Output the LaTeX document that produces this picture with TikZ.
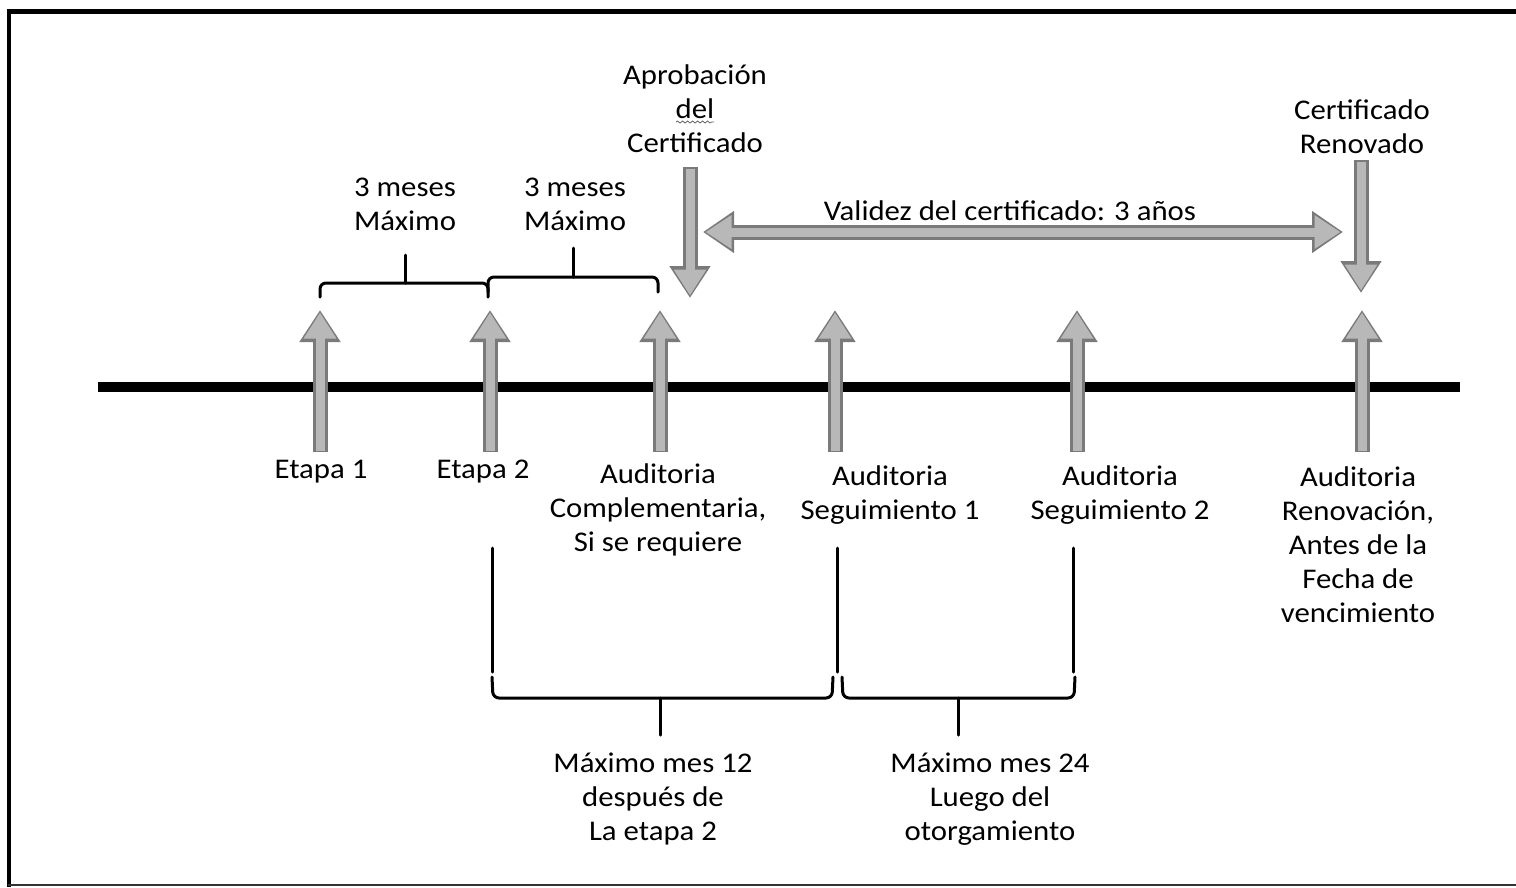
\documentclass[tikz,border=0pt]{standalone}
\usepackage{fontspec}
\setmainfont{Carlito}[FakeStretch=1.08]
\usetikzlibrary{arrows.meta,decorations.pathmorphing}

% broad stippled arrow: dark rim underneath, lighter body on top
\newcommand\fatarrow[2]{%
  \draw[line width=15pt, draw=black!52, -{Triangle[width=39pt,length=32pt]}] #1 -- #2;
  \draw[line width=9pt, draw=black!28, -{Triangle[width=31pt,length=26pt]},
        shorten >=2.5pt, shorten <=1.5pt] #1 -- #2;}
\newcommand\fatdouble[2]{%
  \draw[line width=15pt, draw=black!52,
        {Triangle[width=40pt,length=31pt]}-{Triangle[width=40pt,length=31pt]}] #1 -- #2;
  \draw[line width=9pt, draw=black!28,
        {Triangle[width=32pt,length=26pt]}-{Triangle[width=32pt,length=26pt]},
        shorten >=2.5pt, shorten <=2.5pt] #1 -- #2;}

\begin{document}
\begin{tikzpicture}[x=1pt,y=-1pt,
  lbl/.style={align=center, inner sep=0pt, text=black,
              font=\fontsize{28.5}{34}\selectfont},
  brace/.style={line width=3pt, rounded corners=6pt, line cap=round, line join=round},
  tick/.style={line width=3pt, line cap=round},
  frameline/.style={black, line cap=butt}]
\useasboundingbox (0,0) rectangle (1516,887);

% outer frame
\draw[frameline, line width=5pt] (7,11) -- (1516,11);
\draw[frameline, line width=4pt] (9,9) -- (9,887);
\draw[frameline, line width=2pt, black!80] (8,885) -- (1516,885);

% time line
\coordinate (tl0) at (98,387);
\coordinate (tl1) at (1460,387);
\draw[line width=10pt, black] (tl0) -- (tl1);

% labels above
\node[lbl] (apro)  at (695,109) {Aprobación\\del\\Certificado};
\node[lbl] (renov) at (1362,127) {Certificado\\Renovado};
\node[lbl] (m1)    at (405,204) {3 meses\\Máximo};
\node[lbl] (m2)    at (575,204) {3 meses\\Máximo};
\node[lbl] (val)   at (1010,211) {Validez del certificado: 3 años};
\draw[decorate, decoration={snake, amplitude=1pt, segment length=5pt},
      black!60, line width=0.8pt] (676,122) -- (714,122);

% labels below
\node[lbl] (e1)  at (321,472) {Etapa 1};
\node[lbl] (e2)  at (483,472) {Etapa 2};
\node[lbl] (ac)  at (658,510) {Auditoria\\Complementaria,\\Si se requiere};
\node[lbl] (as1) at (890,495) {Auditoria\\Seguimiento 1};
\node[lbl] (as2) at (1120,495) {Auditoria\\Seguimiento 2};
\node[lbl] (ar)  at (1358,545) {Auditoria\\Renovación,\\Antes de la\\Fecha de\\vencimiento};
\node[lbl] (mx12) at (653,799) {Máximo mes 12\\después de\\La etapa 2};
\node[lbl] (mx24) at (990,799) {Máximo mes 24\\Luego del\\otorgamiento};

% event arrows crossing the time line
\foreach \n/\x in {a/320, b/490, c/660, d/835, e/1077, f/1362}{
  \coordinate (\n bot) at (\x,452);
  \coordinate (\n top) at (\x,310);
}
\fatarrow{(abot)}{(atop)}
\fatarrow{(bbot)}{(btop)}
\fatarrow{(cbot)}{(ctop)}
\fatarrow{(dbot)}{(dtop)}
\fatarrow{(ebot)}{(etop)}
\fatarrow{(fbot)}{(ftop)}

% certificate arrows
\coordinate (aprtop) at (690,167);
\coordinate (aprtip) at (690,298);
\coordinate (rentop) at (1361,160);
\coordinate (rentip) at (1361,293);
\fatarrow{(aprtop)}{(aprtip)}
\fatarrow{(rentop)}{(rentip)}
\coordinate (valL) at (703,232);
\coordinate (valR) at (1343,232);
\fatdouble{(valL)}{(valR)}

% upper braces
\draw[brace] (320,297) -- (320,283) -- (488,283) -- (488,297);
\draw[tick] (405,283) -- (405,255);
\draw[brace] (488,292) -- (488,277) -- (658,277) -- (658,292);
\draw[tick] (573,277) -- (573,248);

% lower guide lines and braces
\draw[tick] (492,548) -- (492,672);
\draw[tick] (837,548) -- (837,672);
\draw[tick] (1073,548) -- (1073,672);
\draw[brace] (492,677) -- (493,698) -- (832,698) -- (833,677);
\draw[tick] (660,698) -- (660,735);
\draw[brace] (842,677) -- (843,698) -- (1074,698) -- (1075,677);
\draw[tick] (958,698) -- (958,735);
\end{tikzpicture}
\end{document}
